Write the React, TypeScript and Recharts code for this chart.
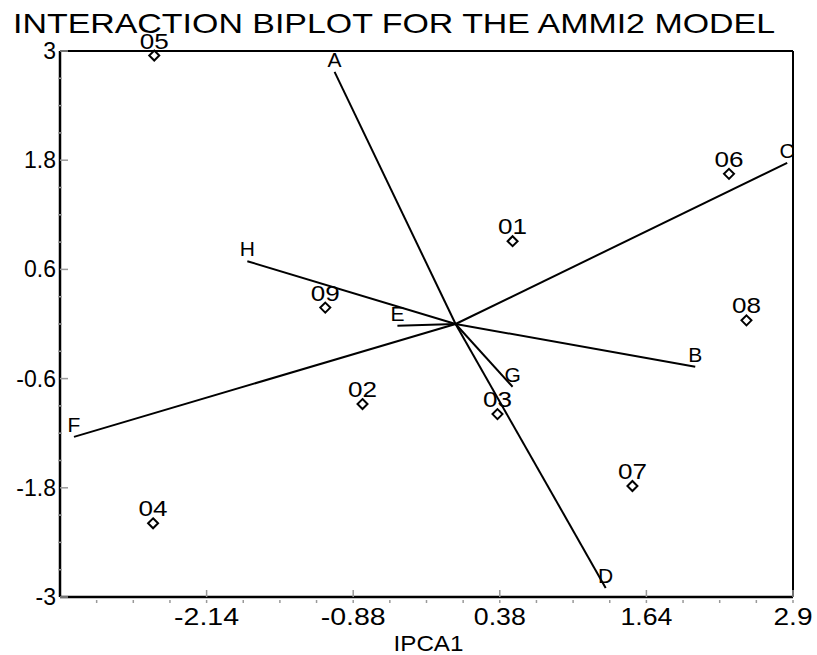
import React from "react";
import { ScatterChart, Scatter, XAxis, YAxis, ReferenceLine } from "recharts";

// genotype scores (IPCA1, IPCA2)
const genotypeNames = ["01", "02", "03", "04", "05", "06", "07", "08", "09"];
const genotypeX = [0.49, -0.8, 0.36, -2.6, -2.59, 2.35, 1.52, 2.5, -1.12];
const genotypeY = [0.91, -0.88, -0.99, -2.19, 2.95, 1.65, -1.78, 0.04, 0.18];

// environment vectors (drawn from origin)
const envNames = ["A", "B", "C", "D", "E", "F", "G", "H"];
const envX = [-1.04, 2.06, 2.85, 1.29, -0.5, -3.28, 0.49, -1.79];
const envY = [2.77, -0.47, 1.77, -2.9, -0.02, -1.24, -0.69, 0.69];

const xMajorTicks = [-3.4, -2.14, -0.88, 0.38, 1.64, 2.9];
const xTickLabels = ["", "-2.14", "-0.88", "0.38", "1.64", "2.9"];
const yMajorTicks = [-3, -1.8, -0.6, 0.6, 1.8, 3];
const yTickLabels = ["-3", "-1.8", "-0.6", "0.6", "1.8", "3"];

const FONT = '"Liberation Sans", Arial, sans-serif';

function withMinor(major: number[], parts: number) {
  const out: number[] = [];
  for (let i = 0; i < major.length - 1; i++) {
    const step = (major[i + 1] - major[i]) / parts;
    for (let k = 0; k < parts; k++) out.push(+(major[i] + k * step).toFixed(4));
  }
  out.push(major[major.length - 1]);
  return out;
}

const xAllTicks = withMinor(xMajorTicks, 4);
const yAllTicks = withMinor(yMajorTicks, 4);

const genotypes = genotypeNames.map((name, i) => ({ name, x: genotypeX[i], y: genotypeY[i] }));
const vectors = envNames.map((name, i) => [
  { name: "", x: 0, y: 0 },
  { name, x: envX[i], y: envY[i] },
]);

const findMajor = (list: number[], v: number) => list.findIndex((t) => Math.abs(t - v) < 1e-6);

const XTick = (props: any) => {
  const { x, y, payload } = props;
  const idx = findMajor(xMajorTicks, payload.value);
  if (idx === 0) return <g />;
  if (idx < 0) {
    return <line x1={x} x2={x} y1={y + 3} y2={y + 6} stroke="#999" strokeWidth={1.5} />;
  }
  const label = xTickLabels[idx];
  return (
    <g>
      <line x1={x} x2={x} y1={y - 7} y2={y} stroke="#999" strokeWidth={1.5} />
      <line x1={x} x2={x} y1={y + 3} y2={y + 6} stroke="#999" strokeWidth={1.5} />
      <text
        x={x}
        y={y + 28}
        textAnchor="middle"
        fontSize={23}
        fontFamily={FONT}
        fill="#000"
        textLength={label.length * 13}
        lengthAdjust="spacingAndGlyphs"
      >
        {label}
      </text>
    </g>
  );
};

const YTick = (props: any) => {
  const { x, y, payload } = props;
  const idx = findMajor(yMajorTicks, payload.value);
  if (idx < 0) {
    return <line x1={x - 2} x2={x + 2} y1={y} y2={y} stroke="#999" strokeWidth={1.5} />;
  }
  return (
    <g>
      <line x1={x} x2={x + 8} y1={y} y2={y} stroke="#999" strokeWidth={1.5} />
      <text x={x - 4} y={y} dy="0.35em" textAnchor="end" fontSize={23} fontFamily={FONT} fill="#000">
        {yTickLabels[idx]}
      </text>
    </g>
  );
};

const GenotypeShape = (props: any) => {
  const { cx, cy, payload } = props;
  const r = 5;
  return (
    <g>
      <polygon
        points={`${cx},${cy - r} ${cx + r},${cy} ${cx},${cy + r} ${cx - r},${cy}`}
        fill="#fff"
        stroke="#000"
        strokeWidth={2}
      />
      <text
        x={cx}
        y={cy - 7}
        textAnchor="middle"
        fontSize={22}
        fontFamily={FONT}
        fill="#000"
        textLength={29}
        lengthAdjust="spacingAndGlyphs"
      >
        {payload.name}
      </text>
    </g>
  );
};

const VectorEnd = (props: any) => {
  const { cx, cy, payload } = props;
  if (!payload.name) return <g />;
  return (
    <text x={cx} y={cy - 5} textAnchor="middle" fontSize={21} fontFamily={FONT} fill="#000">
      {payload.name}
    </text>
  );
};

export default function App() {
  return (
    <div
      style={{
        position: "absolute",
        left: 0,
        top: 0,
        width: 817,
        height: 655,
        background: "#fff",
        fontFamily: FONT,
      }}
    >
      <svg width={817} height={45} style={{ position: "absolute", left: 0, top: 0 }}>
        <text
          x={13}
          y={33}
          fontSize={28}
          fontFamily={FONT}
          fill="#000"
          textLength={762}
          lengthAdjust="spacingAndGlyphs"
        >
          INTERACTION BIPLOT FOR THE AMMI2 MODEL
        </text>
      </svg>
      <ScatterChart
        width={817}
        height={655}
        margin={{ top: 51, right: 24, bottom: 0, left: 0 }}
        style={{ position: "absolute", left: 0, top: 0 }}
      >
        <XAxis
          type="number"
          dataKey="x"
          domain={[-3.4, 2.9]}
          ticks={xAllTicks}
          interval={0}
          height={58}
          tickSize={0}
          tickMargin={0}
          tickLine={false}
          axisLine={{ stroke: "#000", strokeWidth: 2.5 }}
          tick={<XTick />}
          label={{
            content: (p: any) => {
              const vb = p.viewBox || {};
              return (
                <text
                  x={vb.x + vb.width / 2 + 2}
                  y={vb.y + 54}
                  textAnchor="middle"
                  fontSize={22}
                  fontFamily={FONT}
                  fill="#000"
                  textLength={70}
                  lengthAdjust="spacingAndGlyphs"
                >
                  IPCA1
                </text>
              );
            },
          }}
        />
        <YAxis
          type="number"
          dataKey="y"
          domain={[-3, 3]}
          ticks={yAllTicks}
          interval={0}
          width={60}
          tickSize={0}
          tickMargin={0}
          tickLine={false}
          axisLine={{ stroke: "#000", strokeWidth: 2.5 }}
          tick={<YTick />}
        />
        <ReferenceLine y={3} stroke="#000" strokeWidth={2} />
        <ReferenceLine x={2.9} stroke="#000" strokeWidth={2} />
        {vectors.map((d, i) => (
          <Scatter
            key={envNames[i]}
            data={d}
            line={{ stroke: "#000", strokeWidth: 2 }}
            shape={<VectorEnd />}
            isAnimationActive={false}
          />
        ))}
        <Scatter data={genotypes} shape={<GenotypeShape />} isAnimationActive={false} />
      </ScatterChart>
    </div>
  );
}
